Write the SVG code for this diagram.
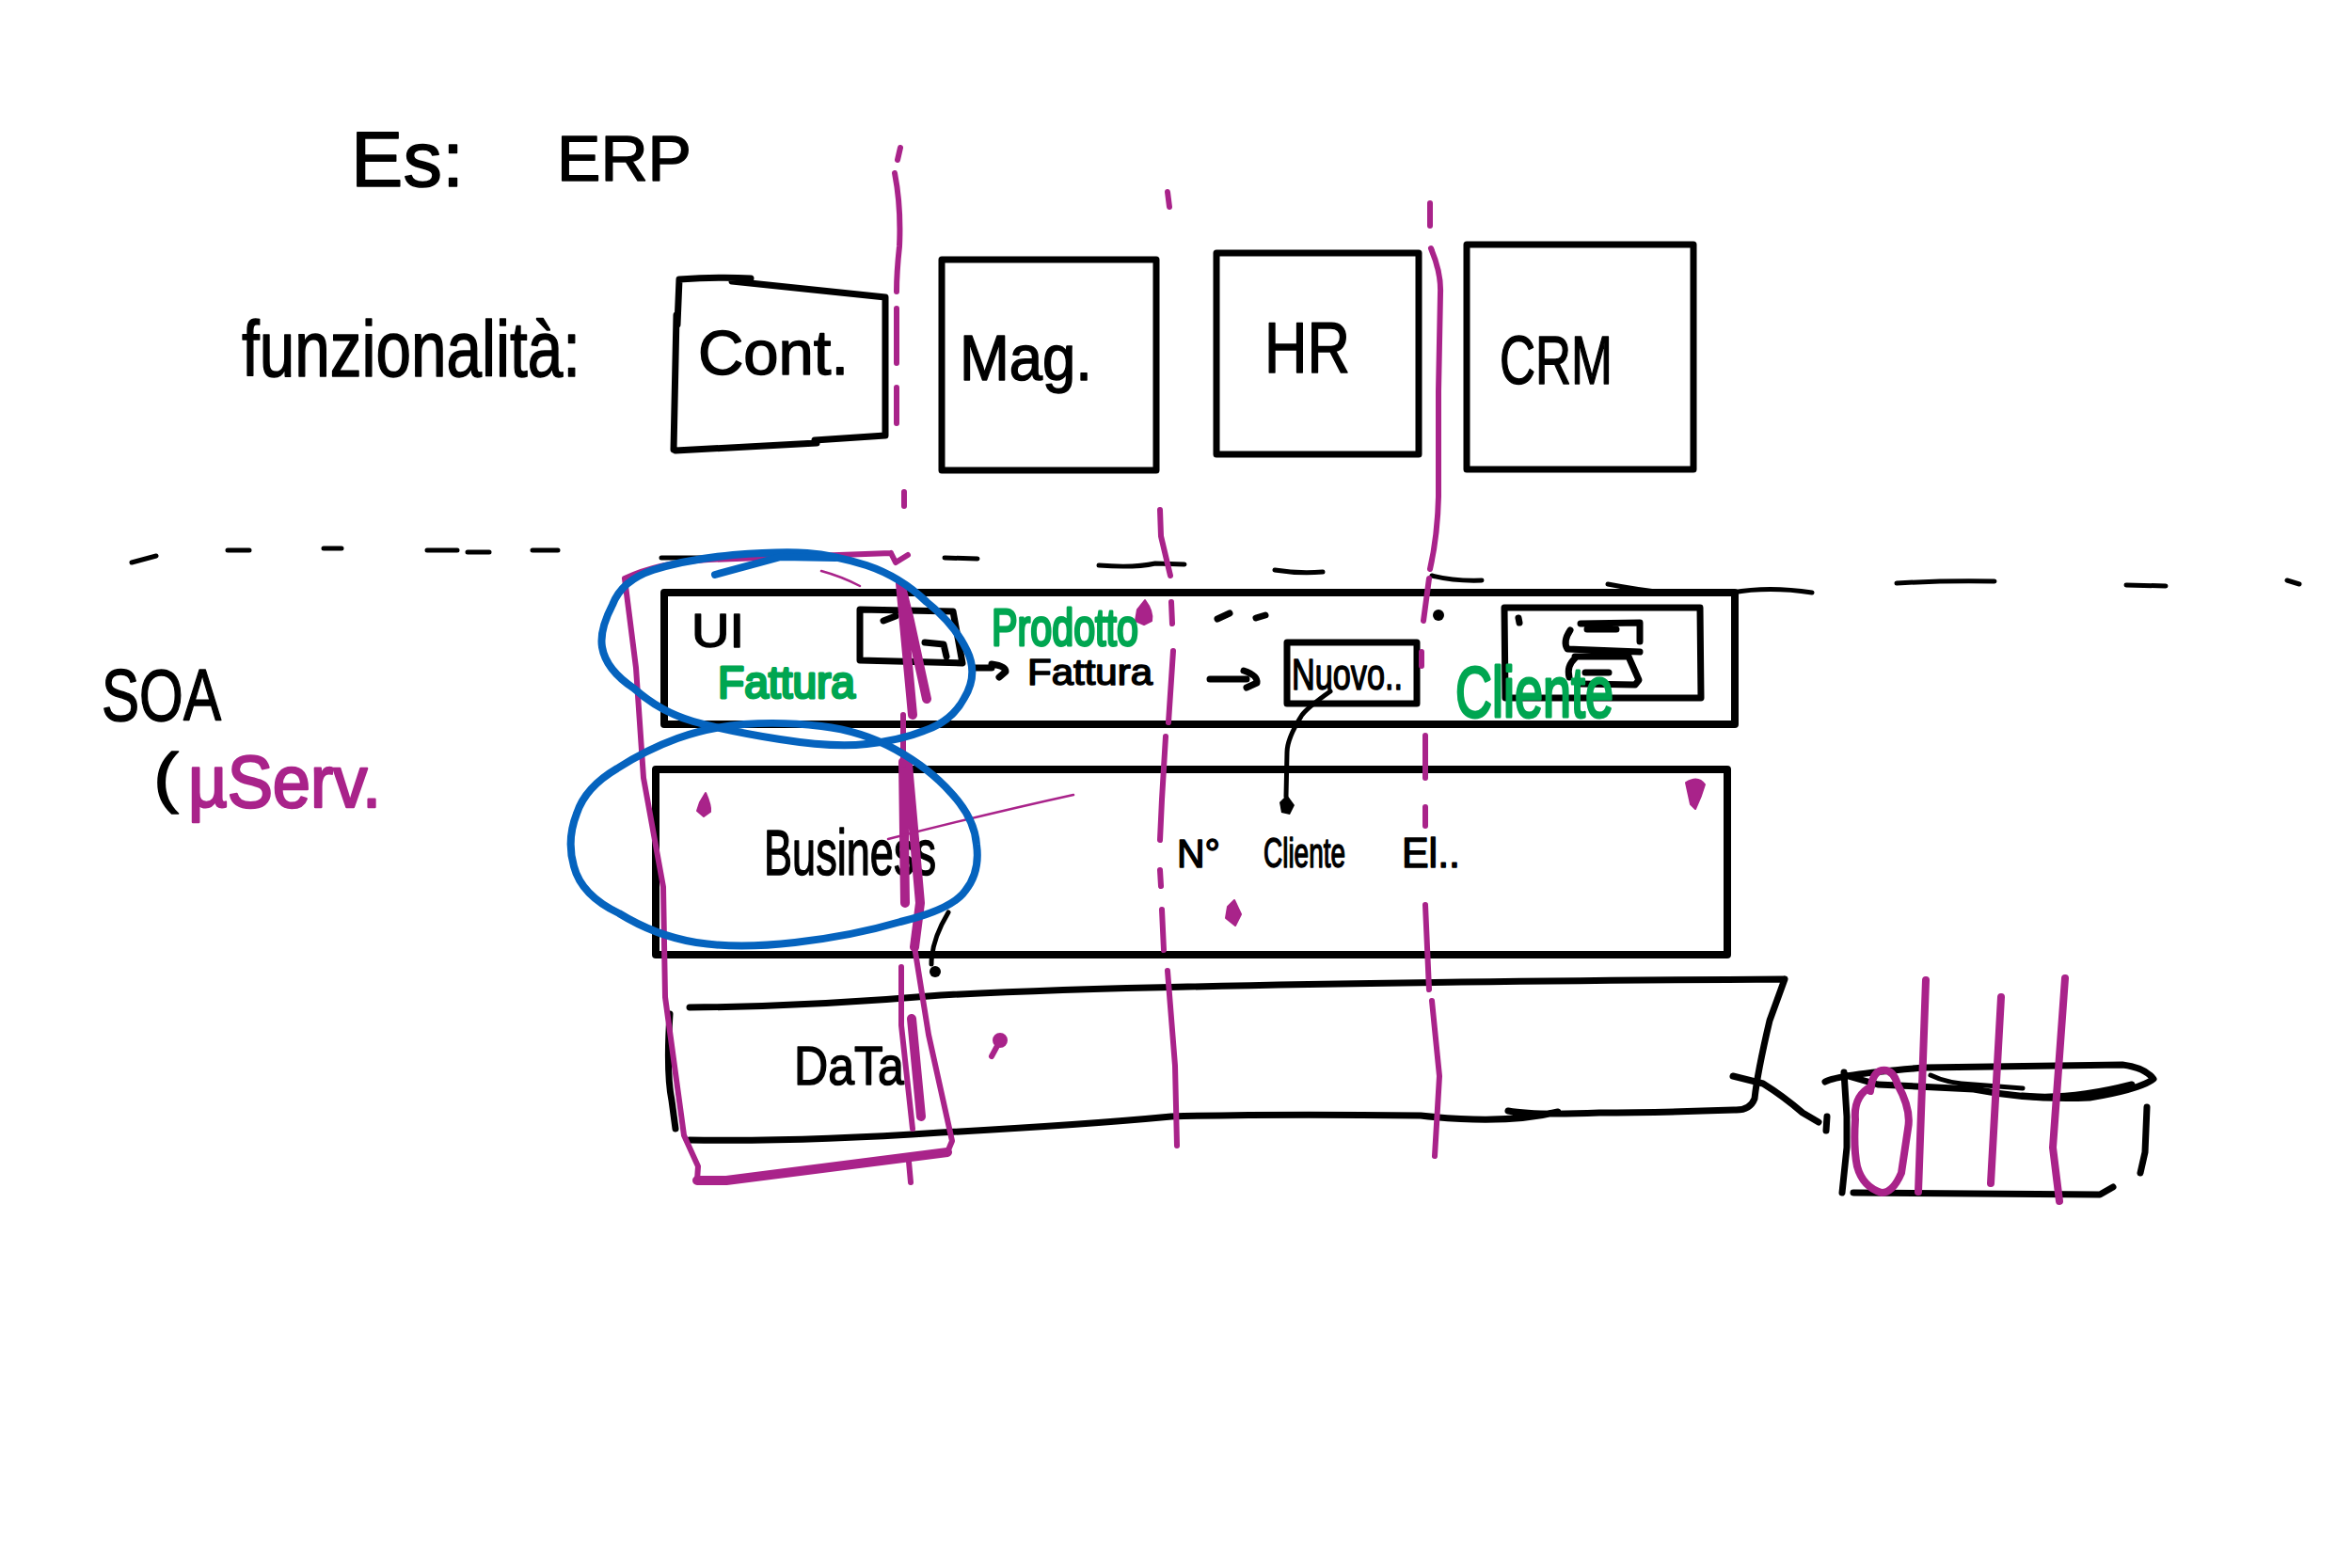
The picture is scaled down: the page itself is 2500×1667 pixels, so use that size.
<svg xmlns="http://www.w3.org/2000/svg" width="2500" height="1667" viewBox="0 0 2500 1667">
<style>
.k{fill:none;stroke:#000;stroke-width:7;stroke-linecap:round;stroke-linejoin:round}
.k5{fill:none;stroke:#000;stroke-width:5;stroke-linecap:round;stroke-linejoin:round}
.b{fill:none;stroke:#000;stroke-width:8;stroke-linecap:round;stroke-linejoin:round}
.m{fill:none;stroke:#A9238A;stroke-width:6;stroke-linecap:round;stroke-linejoin:round}
.m7{fill:none;stroke:#A9238A;stroke-width:8;stroke-linecap:round;stroke-linejoin:round}
.mt{fill:none;stroke:#A9238A;stroke-width:2.5;stroke-linecap:round}
.mb{fill:none;stroke:#A9238A;stroke-width:10;stroke-linecap:round;stroke-linejoin:round}
.mf{fill:#A9238A;stroke:#A9238A;stroke-width:2;stroke-linejoin:round}
.bl{fill:none;stroke:#0563BE;stroke-width:8;stroke-linecap:round;stroke-linejoin:round}
text{font-family:"Liberation Sans",Arial,sans-serif;stroke-linejoin:round}
.tk{fill:#000;stroke:#000;stroke-width:1.5}
.tm{fill:#A9238A;stroke:#A9238A;stroke-width:2.5}
.tg{fill:#00A651;stroke:#00A651;stroke-width:3}
</style>

<g id="title">
<text class="tk" x="373" y="198" font-size="84" textLength="120" lengthAdjust="spacingAndGlyphs">Es:</text>
<text class="tk" x="592" y="192" font-size="68" textLength="143" lengthAdjust="spacingAndGlyphs">ERP</text>
</g>
<g id="label-funzionalita">
<text class="tk" x="257" y="400" font-size="84" textLength="360" lengthAdjust="spacingAndGlyphs">funzionalità:</text>
</g>

<g id="node-cont">
<path class="k" d="M722 297L720 345M719 335L716 478M722 297Q765 294 798 296M778 299L941 316L941 463M718 479L868 471M866 468L941 463"/>
<text class="tk" x="742" y="398" font-size="66" textLength="160" lengthAdjust="spacingAndGlyphs">Cont.</text>
</g>
<g id="node-mag">
<path class="k" d="M1001 276L1229 276L1229 500L1001 500Z"/>
<text class="tk" x="1020" y="404" font-size="68" textLength="141" lengthAdjust="spacingAndGlyphs">Mag.</text>
</g>
<g id="node-hr">
<path class="k" d="M1293 269L1508 269L1508 483L1293 483Z"/>
<text class="tk" x="1344" y="396" font-size="76" textLength="91" lengthAdjust="spacingAndGlyphs">HR</text>
</g>
<g id="node-crm">
<path class="k" d="M1559 260L1800 260L1800 499L1559 499Z"/>
<text class="tk" x="1594" y="408" font-size="72" textLength="120" lengthAdjust="spacingAndGlyphs">CRM</text>
</g>

<g id="divider">
<path class="k5" d="M140 598L166 591M242 585L265 585M344 583L363 583M454 585L486 585M497 587L520 587M566 585L593 585M703 593L762 593M1004 593L1039 594M1168 601Q1205 604 1228 599L1259 600M1355 606Q1380 610 1406 608M1522 612Q1545 618 1575 617M1709 621Q1740 627 1769 630M1841 630Q1880 623 1926 630M2016 620Q2065 617 2120 618M2260 622L2302 623M2431 617L2444 621"/>
</g>

<g id="node-ui-layer">
<path class="b" d="M706 630L1844 630L1844 770L706 770Z"/>
<text class="tk" x="735" y="688" font-size="50" textLength="56" lengthAdjust="spacingAndGlyphs">UI</text>
<text class="tk" x="1092" y="728" font-size="38" textLength="133" lengthAdjust="spacingAndGlyphs">Fattura</text>
</g>
<g id="node-small-box">
<path class="k" d="M914 648L1013 650L1023 705L914 702ZM983 683L1003 685L1006 698M939 660L952 655"/>
</g>
<g id="node-nuovo">
<path class="k" d="M1368 683L1506 683L1506 748L1368 748Z"/>
<text class="tk" x="1373" y="733" font-size="46" textLength="118" lengthAdjust="spacingAndGlyphs">Nuovo..</text>
</g>
<g id="node-crm-box">
<path class="k" d="M1599 646L1807 646L1808 742L1600 742ZM1614 657L1615 662"/>
<path class="k" d="M1680 663L1743 662L1743 682M1687 669L1718 669M1669 670Q1661 682 1666 690L1743 693M1674 700Q1665 708 1668 720M1674 698L1731 698L1742 723L1738 728L1680 727M1685 715L1710 715"/>
</g>
<g id="node-business">
<path class="b" d="M697 818L1836 818L1836 1015L697 1015Z"/>
<text class="tk" x="812" y="930" font-size="68" textLength="183" lengthAdjust="spacingAndGlyphs">Business</text>
<text class="tk" x="1251" y="922" font-size="42" textLength="46" lengthAdjust="spacingAndGlyphs">N°</text>
<text class="tk" x="1343" y="922" font-size="44" textLength="87" lengthAdjust="spacingAndGlyphs">Cliente</text>
<text class="tk" x="1490" y="922" font-size="44" textLength="62" lengthAdjust="spacingAndGlyphs">El..</text>
</g>
<g id="node-data">
<path class="k" d="M733 1071Q860 1070 1000 1058Q1250 1045 1897 1041M1897 1041L1881 1085Q1868 1140 1865 1168Q1860 1181 1843 1180Q1760 1183 1700 1183Q1630 1186 1603 1181M1656 1182Q1600 1196 1510 1186Q1350 1184 1245 1187Q1150 1196 1000 1204Q850 1214 733 1212M712 1078Q708 1140 714 1170L718 1200"/>
<text class="tk" x="844" y="1153" font-size="58" textLength="117" lengthAdjust="spacingAndGlyphs">DaTa</text>
</g>
<g id="node-database">
<path class="k" d="M1940 1150Q1955 1142 2046 1135L2256 1132Q2280 1135 2289 1147Q2275 1158 2221 1167Q2160 1170 2098 1158L1996 1153L1961 1143"/>
<path class="k5" d="M2052 1143Q2070 1152 2098 1153L2150 1157"/>
<path class="k" d="M2150 1165Q2200 1170 2266 1153M1960 1140L1963 1187L1963 1220L1958 1268M1970 1268L2232 1270L2246 1262M2282 1177L2280 1225L2275 1247"/>
</g>
<g id="node-soa">
<text class="tk" x="108" y="766" font-size="78" textLength="127" lengthAdjust="spacingAndGlyphs">SOA</text>
<text class="tk" x="163" y="850" font-size="70" textLength="27" lengthAdjust="spacingAndGlyphs">(</text>
<text class="tm" x="200" y="858" font-size="78" textLength="205" lengthAdjust="spacingAndGlyphs">µServ.</text>
</g>

<g id="connectors">
<path class="k" d="M1034 710L1054 710M1054 706Q1069 708 1069 714L1062 720"/>
<path class="k" d="M1286 722L1325 722M1322 713Q1337 718 1336 726L1325 731"/>
<path class="k5" d="M1414 735Q1390 752 1384 760Q1368 785 1368 800L1367 847"/>
<path d="M1368 845L1376 856L1371 866L1362 864L1360 853Z"/>
<path class="k5" d="M1008 970Q990 1000 990 1025"/>
<circle cx="994" cy="1033" r="6"/>
<path class="k" d="M1842 1144L1874 1152Q1895 1165 1916 1183L1933 1193M1942 1187L1941 1202"/>
<path class="k" d="M1294 658L1307 652M1335 657L1345 654"/>
<circle cx="1529" cy="654" r="6"/>
</g>

<g id="annotations-magenta">
<path class="m" d="M957 157L954 170M951 184Q958 220 956 262Q953 290 953 310M953 328L953 386M953 412L953 450M961 523L961 538"/>
<path class="mb" d="M957 620L967 660L985 743M957 620L970 760M965 813L978 960L972 1007M960 810L962 960M969 1083L979 1187"/>
<path class="m" d="M960 760L960 813M958 1028L958 1090L970 1200M966 1235L968 1257"/>
<path class="m" d="M1241 204L1243 220M1233 542L1234 570L1244 612M1245 640L1246 663M1247 692L1242 768M1239 783L1235 850L1233 893M1233 925L1234 942M1235 967L1237 1010M1241 1032L1249 1133L1251 1218"/>
<path class="m" d="M1520 216L1520 240M1521 264Q1532 290 1531 312L1529 416L1529 528Q1528 570 1520 605M1519 615L1513 660M1511 693L1511 708M1515 782L1515 827M1515 858L1515 878M1515 962L1519 1052M1522 1064L1530 1144L1525 1229"/>
<path class="m" d="M664 615L676 710L684 827L705 943L707 1060L727 1207L742 1240L741 1255M947 588L952 598L965 590M664 615Q700 598 753 595L947 588M971 1000L987 1100L1012 1213L1007 1225"/>
<path class="mb" d="M741 1255L772 1255L1007 1225"/>
<path class="mt" d="M873 607Q895 613 914 623M944 892Q1050 865 1141 845"/>
<path class="mf" d="M1217 638Q1226 650 1224 660L1216 664L1207 660L1209 648Z"/>
<path class="mf" d="M750 843Q756 857 755 863L748 868L741 862L744 853Z"/>
<path class="mf" d="M1792 832Q1805 824 1812 834L1808 846L1802 860L1797 855Z"/>
<path class="mf" d="M1312 957L1319 972L1313 984L1303 976L1305 964Z"/>
<circle class="mf" cx="1063" cy="1106" r="7"/>
<path class="m" d="M1061 1110L1054 1123"/>
<path class="m7" d="M1988 1160Q1990 1140 2000 1138Q2012 1136 2017 1153Q2032 1180 2028 1200L2021 1247Q2012 1268 2000 1268Q1980 1262 1974 1240Q1970 1220 1972 1190Q1970 1165 1989 1155"/>
<path class="m7" d="M2047 1042L2039 1267M2127 1060L2116 1258M2195 1040L2182 1220L2189 1277"/>
</g>

<g id="annotations-green">
<text class="tg" x="763" y="742" font-size="48" textLength="146" lengthAdjust="spacingAndGlyphs">Fattura</text>
<text class="tg" x="1054" y="686" font-size="56" textLength="156" lengthAdjust="spacingAndGlyphs">Prodotto</text>
<text class="tg" x="1547" y="762" font-size="76" textLength="168" lengthAdjust="spacingAndGlyphs">Cliente</text>
</g>

<g id="annotations-blue">
<path class="bl" d="M694 606Q661 617 651 643Q637 670 640 688Q644 712 674 732Q702 757 737 767Q773 777 829 786Q886 795 921 791Q957 787 982 777Q1012 767 1025 742Q1040 717 1028 692Q1015 664 985 640Q957 613 921 601Q886 590 858 588Q830 586 779 590Q728 595 694 606Z"/>
<path class="bl" d="M760 611L830 592L888 593"/>
<path class="bl" d="M720 785Q687 797 656 817Q622 837 613 865Q602 893 610 921Q618 952 658 971Q697 995 740 1002Q784 1009 845 1002Q906 995 957 980Q1012 967 1026 947Q1042 927 1038 898Q1036 870 1011 843Q988 817 952 797Q916 777 873 772Q830 767 791 770Q753 773 720 785Z"/>
</g>
</svg>
